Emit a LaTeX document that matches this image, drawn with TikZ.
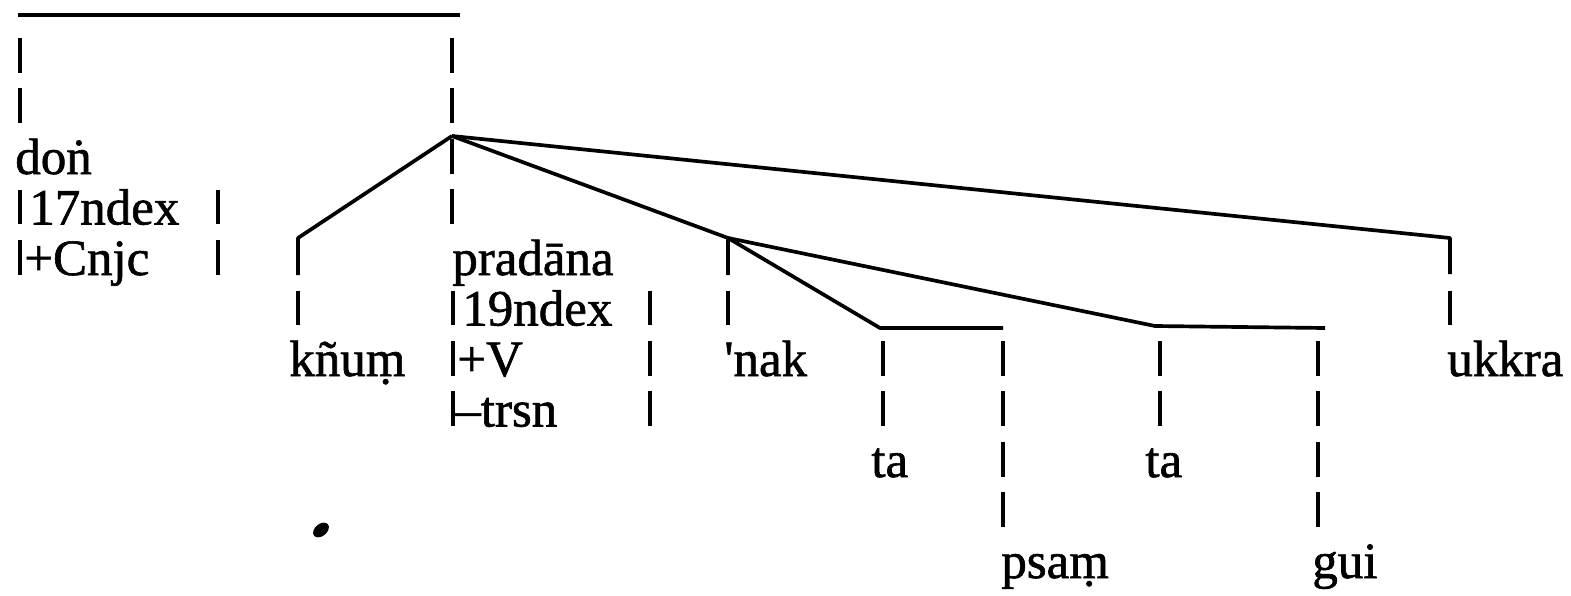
\documentclass[tikz,border=0pt]{standalone}
\usepackage{fontspec}
\setmainfont{Liberation Serif}
\newfontfamily\scanfont[FakeBold=1.2]{Liberation Serif}
% one column of bars, from row #2 to row #3 (rows 50.5 units apart)
\newcommand{\colbar}[3]{\draw[bar] (#1,{174+50.5*(#2)-35}) -- (#1,{174+50.5*(#3)});}
\begin{document}
\begin{tikzpicture}[x=0.02cm, y=-0.02cm,
  word/.style={font=\scanfont\fontsize{29}{30}\selectfont, inner sep=0pt, anchor=base west},
  link/.style={line width=2.1pt, line join=round},
  bar/.style={line width=2.3pt, dash pattern=on 0.7cm off 0.31cm}]
  \useasboundingbox (0,0) rectangle (1571,595);

  % Words
  \node[word] (don) at (15,174) {doṅ};
  \node[word] (idx17) at (29,224.5) {17ndex};
  \node[word] (cnjc) at (24,275) {+Cnjc};
  \node[word] (prad) at (452,275) {pradāna};
  \node[word] (idx19) at (462,325.5) {19ndex};
  \node[word] (vv) at (457,376) {+V};
  \node[word] (trsn) at (455,426.5) {–trsn};
  \node[word] (knum) at (289,376) {kñuṃ};
  \node[word] (nak) at (724,376) {\textquotesingle nak};
  \node[word] (ukkra) at (1447,376) {ukkra};
  \node[word] (ta1) at (871,477) {ta};
  \node[word] (ta2) at (1145,477) {ta};
  \node[word] (psam) at (1001,578) {psaṃ};
  \node[word] (gui) at (1312,578) {gui};

  % Branch points
  \coordinate (tl) at (18,15);
  \coordinate (tr) at (460,15);
  \coordinate (P) at (452,136);
  \coordinate (kn) at (298,238);
  \coordinate (kb) at (298,275);
  \coordinate (Q) at (728,238);
  \coordinate (qb) at (728,275);
  \coordinate (uk) at (1450,238);
  \coordinate (ub) at (1450,274);
  \coordinate (t1) at (880,328);
  \coordinate (t1e) at (1003,328);
  \coordinate (t2) at (1155,326);
  \coordinate (t2e) at (1325,328);

  % Tree lines
  \draw[link] (tl) -- (tr);
  \draw[link] (P) -- (kn) -- (kb);
  \draw[link] (P) -- (Q) -- (qb);
  \draw[link] (P) -- (uk) -- (ub);
  \draw[link] (Q) -- (t1) -- (t1e);
  \draw[link] (Q) -- (t2) -- (t2e);

  % Vertical bars
  \colbar{20}{-2}{-1}
  \colbar{452}{-2}{1}
  \colbar{20}{1}{2}
  \colbar{218}{1}{2}
  \colbar{298}{3}{3}
  \colbar{453}{3}{5}
  \colbar{650}{3}{5}
  \colbar{728}{3}{3}
  \colbar{1450}{3}{3}
  \colbar{883}{4}{5}
  \colbar{1003}{4}{7}
  \colbar{1160}{4}{5}
  \colbar{1318}{4}{7}

  % speck
  \fill[rotate around={40:(321,530)}] (321,530) ellipse [x radius=9, y radius=6];

\end{tikzpicture}
\end{document}
